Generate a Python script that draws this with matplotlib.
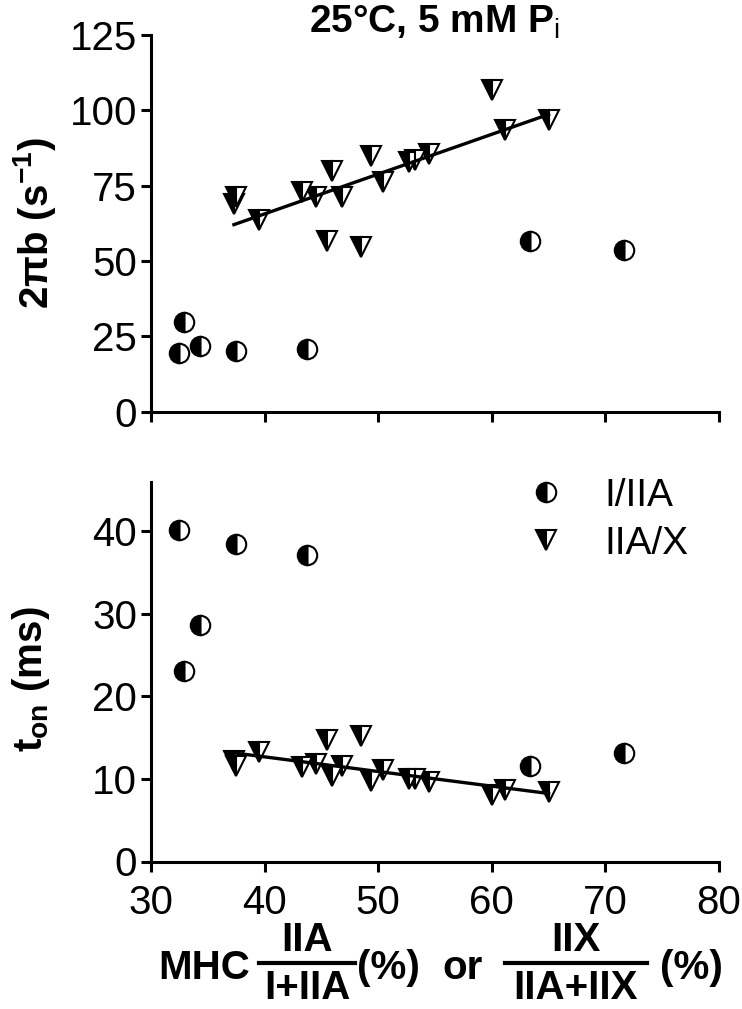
import matplotlib
matplotlib.use("Agg")
import matplotlib.pyplot as plt
from matplotlib.lines import Line2D
import numpy as np

plt.rcParams["font.family"] = ["Liberation Sans", "DejaVu Sans"]
plt.rcParams["mathtext.fontset"] = "custom"
plt.rcParams["mathtext.rm"] = "Liberation Sans"
plt.rcParams["mathtext.bf"] = "Liberation Sans:bold"

# I/IIA fibres (half-filled circles)
x_i_iia = [32.5, 32.9, 34.3, 37.5, 43.7, 63.4, 71.6]
rate_i_iia = [19.6, 29.9, 21.8, 20.3, 20.7, 56.5, 53.5]
ton_i_iia = [40.2, 23.1, 28.7, 38.4, 37.1, 11.6, 13.1]

# IIA/X fibres (half-filled triangles)
x_iia_x = [37.3, 37.5, 39.5, 43.3, 44.5, 45.5, 45.9, 46.8, 48.5,
           49.4, 50.4, 52.7, 53.2, 54.5, 60.0, 61.2, 65.0]
rate_iia_x = [69.0, 71.4, 63.5, 72.9, 71.4, 56.8, 80.0, 71.3, 54.6,
              85.0, 76.2, 82.8, 83.6, 85.6, 106.6, 93.4, 96.7]
ton_iia_x = [12.2, 11.6, 13.3, 11.5, 11.8, 14.7, 10.4, 11.6, 15.2,
             9.8, 11.1, 10.0, 10.0, 9.6, 8.0, 8.7, 8.4]

W, H = 742, 1009
fig = plt.figure(figsize=(W / 100, H / 100), dpi=100)

left, right = 151 / W, 719 / W
ax1 = fig.add_axes([left, 1 - 411.7 / H, right - left, (411.7 - 35) / H])
ax2 = fig.add_axes([left, 1 - 861.5 / H, right - left, (861.5 - 481.7) / H])

circ = dict(marker="o", ms=14, mfc="black", mfcalt="white", mec="black",
            mew=1.5, fillstyle="left", ls="none")
tri = dict(marker="v", ms=14, mfc="black", mfcalt="white", mec="black",
           mew=1.5, fillstyle="left", ls="none")

TICK_FS = 29
LABEL_FS = 29


def style_axes(ax, ylim, yticks):
    ax.set_xlim(30, 80)
    ax.set_ylim(*ylim)
    ax.set_xticks([30, 40, 50, 60, 70, 80])
    ax.set_yticks(yticks)
    for s in ["top", "right"]:
        ax.spines[s].set_visible(False)
    for s in ["left", "bottom"]:
        ax.spines[s].set_linewidth(2.2)
    ax.tick_params(width=2.2, length=7, labelsize=TICK_FS)
    ax.tick_params(axis="y", pad=3)
    ax.tick_params(axis="x", pad=9)


# top panel
ax1.plot(x_i_iia, rate_i_iia, **circ, zorder=3)
ax1.plot(x_iia_x, rate_iia_x, **tri, zorder=3)
k, b = np.polyfit(x_iia_x, rate_iia_x, 1)
xs = np.array([min(x_iia_x), max(x_iia_x)])
ax1.plot(xs, k * xs + b, color="black", lw=2.4, zorder=4)
style_axes(ax1, (0, 125), [0, 25, 50, 75, 100, 125])
ax1.tick_params(axis="x", labelbottom=False)
ax1.set_ylabel(r"2πb (s$^{\mathbf{-1}}$)", fontsize=LABEL_FS,
               fontweight="bold")
ax1.yaxis.set_label_coords(-0.163, 0.5)
fig.text(435 / W, 1 - 22 / H, r"25°C, 5 mM P$_{\mathrm{i}}$", fontsize=28,
         fontweight="bold", ha="center", va="center")

# bottom panel
ax2.plot(x_i_iia, ton_i_iia, **circ, zorder=3, label="I/IIA")
ax2.plot(x_iia_x, ton_iia_x, **tri, zorder=3, label="IIA/X")
k2, b2 = np.polyfit(x_iia_x, ton_iia_x, 1)
ax2.plot(xs, k2 * xs + b2, color="black", lw=2.4, zorder=4)
style_axes(ax2, (0, 46), [0, 10, 20, 30, 40])
ax2.set_ylabel(r"t$_{\mathbf{on}}$ (ms)", fontsize=LABEL_FS,
               fontweight="bold")
ax2.yaxis.set_label_coords(-0.175, 0.48)
ax2.legend(loc="upper left", bbox_to_anchor=(527 / W, 1 - 478 / H),
           bbox_transform=fig.transFigure, frameon=False, fontsize=28,
           numpoints=1, handlelength=1.0, handletextpad=1.0,
           borderpad=0, borderaxespad=0, labelspacing=0.3)

# x axis label with stacked fractions
fs = 29
yb = 1 - 968 / H
fig.text(158 / W, yb, "MHC", fontsize=fs, fontweight="bold", va="center")
fig.text(307 / W, 1 - 940 / H, "IIA", fontsize=fs, fontweight="bold",
         ha="center", va="center")
fig.text(307 / W, 1 - 988 / H, "I+IIA", fontsize=fs, fontweight="bold",
         ha="center", va="center")
fig.add_artist(Line2D([259 / W, 355 / W], [1 - 963 / H] * 2, color="black",
                      lw=3, transform=fig.transFigure))
fig.text(357 / W, yb, "(%)", fontsize=fs, fontweight="bold", va="center")
fig.text(442 / W, yb, "or", fontsize=fs, fontweight="bold", va="center")
fig.text(576 / W, 1 - 940 / H, "IIX", fontsize=fs, fontweight="bold",
         ha="center", va="center")
fig.text(576 / W, 1 - 988 / H, "IIA+IIX", fontsize=fs, fontweight="bold",
         ha="center", va="center")
fig.add_artist(Line2D([505 / W, 647 / W], [1 - 963 / H] * 2, color="black",
                      lw=3, transform=fig.transFigure))
fig.text(660 / W, yb, "(%)", fontsize=fs, fontweight="bold", va="center")

fig.savefig("out.png", dpi=100)
